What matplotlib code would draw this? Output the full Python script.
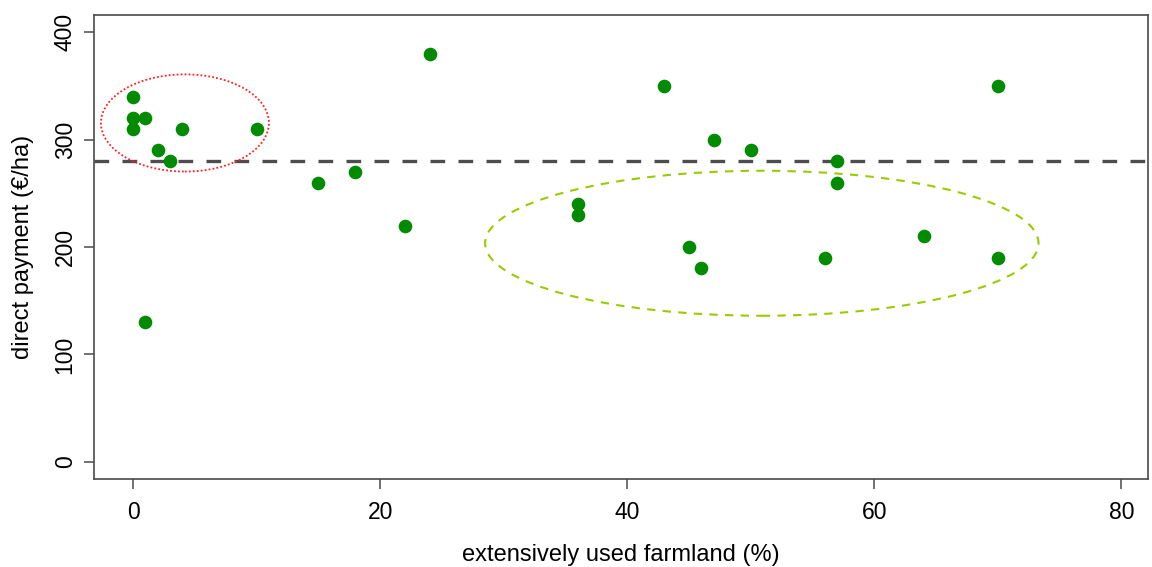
import matplotlib
matplotlib.use("Agg")
import matplotlib.pyplot as plt
from matplotlib.patches import Ellipse

# ---------------------------------------------------------------- data
farmland_pct = [0, 0, 0, 1, 2, 3, 4, 10, 1, 15, 18, 22, 24, 36, 36, 43,
                45, 46, 47, 50, 56, 57, 57, 64, 70, 70]
payment = [340, 320, 310, 320, 290, 280, 310, 310, 130, 260, 270, 220, 380,
           240, 230, 350, 200, 180, 300, 290, 190, 280, 260, 210, 350, 190]
mean_payment = 280

# highlighted groups: (centre x, centre y, width, height)
red_group = (4.2, 315.5, 13.6, 90.5)
green_group = (50.9, 203.5, 44.8, 135)

plt.rcParams["font.family"] = ["Liberation Sans", "DejaVu Sans"]

fig = plt.figure(figsize=(11.52, 5.67), dpi=100)
ax = fig.add_axes([0.0816, 0.1552, 0.9149, 0.8183])

ax.plot(farmland_pct, payment, "o", color="#008b00", markersize=9.8,
        markeredgewidth=0, zorder=3)
ax.axhline(mean_payment, color="#4d4d4d", lw=2.4, dashes=(4.4, 4.0), zorder=2)

cx, cy, w, h = red_group
ax.add_patch(Ellipse((cx, cy), w, h, fill=False, edgecolor="#ff2020",
                     lw=1.3, linestyle=(0, (1, 1.2)), zorder=2))
cx, cy, w, h = green_group
ax.add_patch(Ellipse((cx, cy), w, h, fill=False, edgecolor="#99cc00",
                     lw=1.5, linestyle=(0, (4, 3.5)), zorder=2))

ax.set_xlim(-3.16, 82.16)
ax.set_ylim(-16, 416)
ax.set_xticks([0, 20, 40, 60, 80])
ax.set_yticks([0, 100, 200, 300, 400])
for lb in ax.get_yticklabels():
    lb.set_rotation(90)
    lb.set_va("center")

for sp in ax.spines.values():
    sp.set_color("#4a4a4a")
    sp.set_linewidth(1.2)
ax.tick_params(axis="both", length=7.5, width=1.1, color="#4a4a4a",
               labelsize=16.5, direction="out")
ax.tick_params(axis="x", pad=8)
ax.tick_params(axis="y", pad=5)

ax.set_xlabel("extensively used farmland (%)", fontsize=17, labelpad=14.5)
ax.set_ylabel("direct payment (\u20ac/ha)", fontsize=17, labelpad=14)

fig.savefig("out.png", dpi=100)
